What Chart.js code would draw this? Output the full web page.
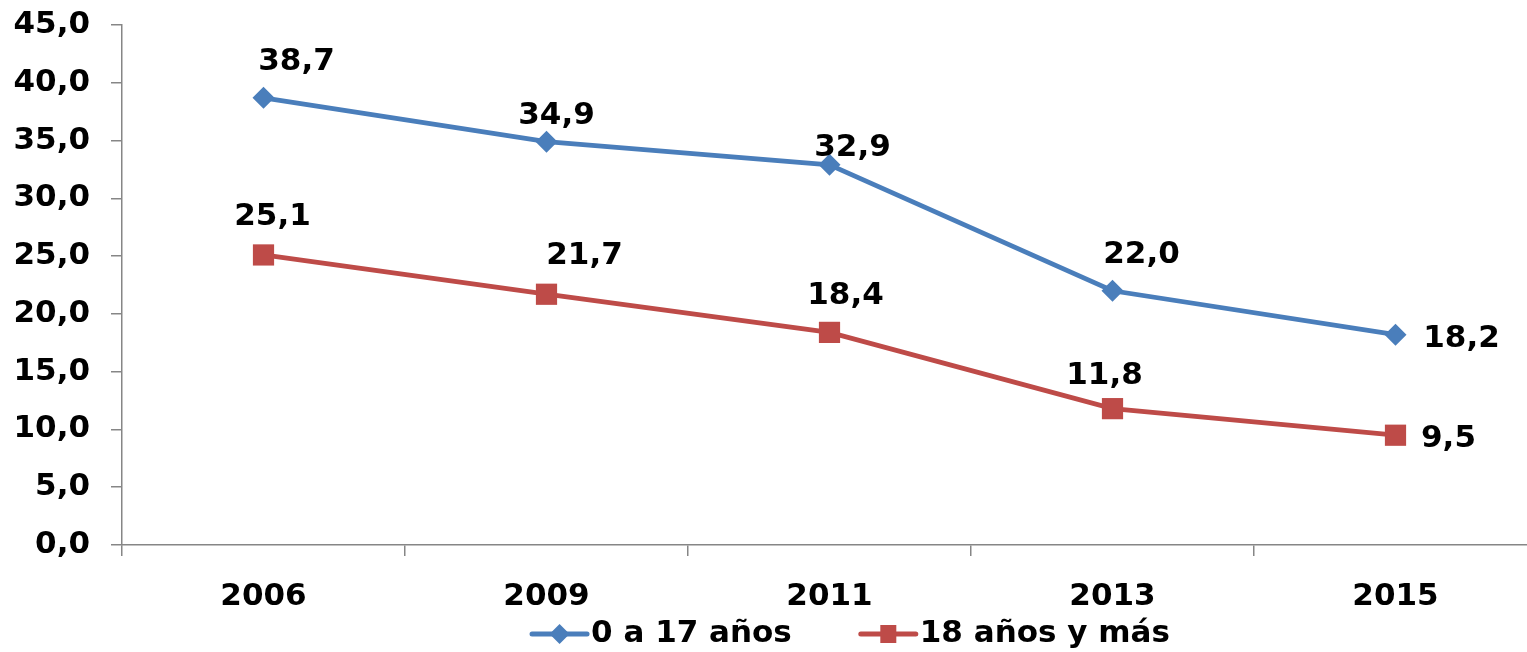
<!DOCTYPE html>
<html>
<head>
<meta charset="utf-8">
<script src="https://cdn.jsdelivr.net/npm/chart.js@4"></script>
<style>
  html, body { margin: 0; padding: 0; background: #fff; overflow: hidden; }
  #wrap { width: 1552px; height: 652px; }
</style>
</head>
<body>
<div id="wrap"><canvas id="chart" width="1552" height="652"></canvas></div>
<script>
// --- dados ---
const anos = ["2006", "2009", "2011", "2013", "2015"];
const serieMenores = [38.7, 34.9, 32.9, 22.0, 18.2];
const serieAdultos = [25.1, 21.7, 18.4, 11.8, 9.5];
const nomesSeries = ["0 a 17 años", "18 años y más"];

// deslocamento das etiquetas (px) em relacao ao ponto
const offsetMenores = [[33, -36], [10, -26], [23, -17], [29, -36], [66, 4]];
const offsetAdultos = [[9, -38], [38, -38], [16, -36], [-8, -33], [53, 4]];

const AZUL = "#4A7EBB";
const VERMELHO = "#BE4B48";
const CINZA = "#868686";
const FONTE = "'DejaVu Sans', Verdana, sans-serif";

const virgula = v => v.toFixed(1).replace(".", ",");

// etiquetas de valor
const pluginEtiquetas = {
  id: "etiquetas",
  afterDatasetsDraw(chart) {
    const ctx = chart.ctx;
    const offsets = [offsetMenores, offsetAdultos];
    ctx.save();
    ctx.font = "bold 31px " + FONTE;
    ctx.fillStyle = "#000";
    ctx.textAlign = "center";
    ctx.textBaseline = "middle";
    chart.data.datasets.forEach((ds, i) => {
      const meta = chart.getDatasetMeta(i);
      meta.data.forEach((pt, j) => {
        const [dx, dy] = offsets[i][j];
        ctx.fillText(virgula(ds.data[j]), pt.x + dx, pt.y + dy);
      });
    });
    ctx.restore();
  }
};

// legenda embaixo com linha + marcador
const pluginLegenda = {
  id: "legendaLinha",
  afterDraw(chart) {
    const ctx = chart.ctx;
    const y = 634;
    const linha = 55, gapTexto = 4, gapItem = 69;
    ctx.save();
    ctx.font = "bold 31px " + FONTE;
    const larguras = chart.data.datasets.map(ds => ctx.measureText(ds.label).width);
    const total = larguras.reduce((s, w) => s + linha + gapTexto + w, 0) + gapItem * (larguras.length - 1);
    let x = 851 - total / 2;
    chart.data.datasets.forEach((ds, i) => {
      ctx.strokeStyle = ds.borderColor;
      ctx.lineWidth = 5;
      ctx.lineCap = "round";
      ctx.beginPath();
      ctx.moveTo(x, y);
      ctx.lineTo(x + linha, y);
      ctx.stroke();
      ctx.fillStyle = ds.backgroundColor;
      const cx = x + linha / 2;
      ctx.beginPath();
      if (ds.pointStyle === "rectRot") {
        ctx.moveTo(cx - 10, y); ctx.lineTo(cx, y - 10); ctx.lineTo(cx + 10, y); ctx.lineTo(cx, y + 10);
      } else {
        ctx.rect(cx - 8, y - 9, 16, 18);
      }
      ctx.closePath();
      ctx.fill();
      ctx.fillStyle = "#000";
      ctx.textAlign = "left";
      ctx.textBaseline = "middle";
      ctx.fillText(ds.label, x + linha + gapTexto, y);
      x += linha + gapTexto + larguras[i] + gapItem;
    });
    ctx.restore();
  }
};

new Chart(document.getElementById("chart").getContext("2d"), {
  type: "line",
  data: {
    labels: anos,
    datasets: [
      {
        label: nomesSeries[0],
        data: serieMenores,
        borderColor: AZUL,
        backgroundColor: AZUL,
        borderWidth: 4.8,
        pointStyle: "rectRot",
        pointRadius: 11,
        pointBorderWidth: 0,
        tension: 0
      },
      {
        label: nomesSeries[1],
        data: serieAdultos,
        borderColor: VERMELHO,
        backgroundColor: VERMELHO,
        borderWidth: 4.8,
        pointStyle: "rect",
        pointRadius: 15,
        pointBorderWidth: 0,
        tension: 0
      }
    ]
  },
  options: {
    responsive: false,
    animation: false,
    layout: { padding: { top: 25, right: 0, bottom: 0, left: 0 } },
    plugins: {
      legend: { display: false },
      tooltip: { enabled: false }
    },
    scales: {
      x: {
        offset: true,
        grid: { offset: true, drawOnChartArea: false, drawTicks: true, tickLength: 11, color: CINZA, lineWidth: 1.5 },
        border: { color: CINZA, width: 1.5 },
        ticks: { color: "#000", font: { family: FONTE, size: 31, weight: "bold" }, padding: 22, maxRotation: 0 },
        afterFit: s => { s.height = 107; }
      },
      y: {
        min: 0,
        max: 45,
        ticks: {
          stepSize: 5,
          color: "#000",
          font: { family: FONTE, size: 31, weight: "bold" },
          padding: 21,
          callback: v => virgula(v)
        },
        grid: { drawOnChartArea: false, drawTicks: true, tickLength: 11, color: CINZA, lineWidth: 1.5 },
        border: { color: CINZA, width: 1.5 },
        afterFit: s => { s.width = 122; s.paddingTop = 0; s.paddingBottom = 0; }
      }
    }
  },
  plugins: [pluginEtiquetas, pluginLegenda]
});
</script>
</body>
</html>
